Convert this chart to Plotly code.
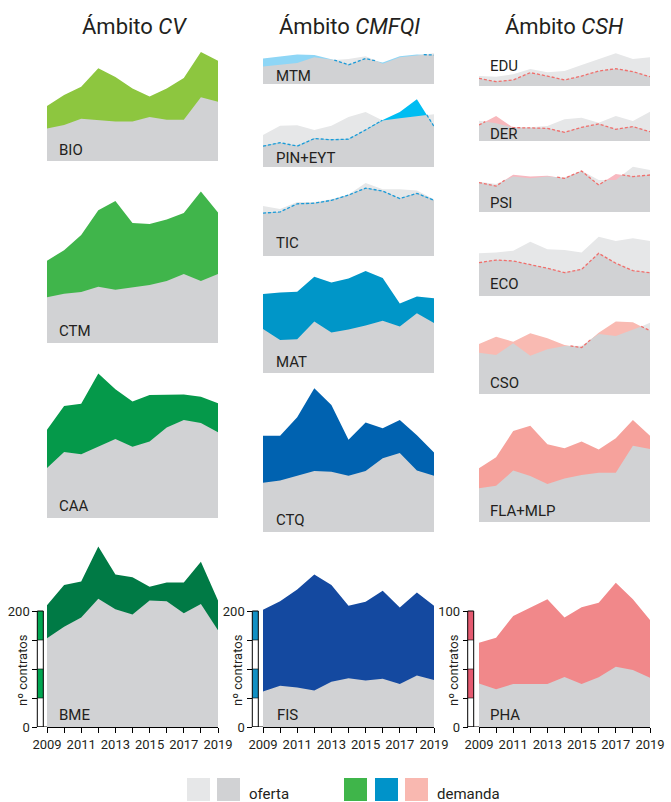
import plotly.graph_objects as go

W, H = 671, 802
FONT = "Roboto, Liberation Sans, sans-serif"
TXT = "#231f20"
LIGHT = "#e6e7e8"
DARK = "#d1d2d4"

years = list(range(2009, 2020))

# ---- data (nº contratos): oferta / demanda ----
BIO_of = [56, 62, 73, 71, 68, 68, 76, 71, 71, 110, 102]
BIO_de = [95, 114, 128, 160, 145, 125, 111, 125, 143, 188, 173]
CTM_of = [79, 85, 88, 97, 92, 96, 100, 107, 119, 107, 119]
CTM_de = [142, 160, 186, 229, 245, 207, 205, 213, 224, 261, 225]
CAA_of = [86, 114, 110, 123, 136, 123, 132, 156, 169, 164, 148]
CAA_de = [152, 193, 197, 249, 222, 201, 212, 213, 213, 209, 198]
BME_of = [153, 173, 189, 221, 203, 194, 218, 217, 196, 212, 167]
BME_de = [210, 245, 251, 311, 263, 258, 242, 249, 249, 285, 218]

MTM_of = [30, 33, 36, 46, 41, 43, 48, 35, 46, 49, 53]
MTM_de = [44, 48, 51, 50, 43, 33, 44, 37, 48, 51, 50]
PIN_of = [55, 71, 72, 64, 71, 86, 95, 80, 84, 88, 91]
PIN_de = [36, 42, 36, 49, 47, 48, 64, 81, 95, 117, 70]
TIC_of = [86, 81, 93, 93, 98, 106, 126, 115, 115, 113, 98]
TIC_de = [74, 76, 90, 91, 96, 105, 117, 112, 99, 108, 96]
MAT_of = [76, 57, 58, 89, 70, 75, 82, 90, 80, 103, 86]
MAT_de = [136, 139, 140, 166, 156, 163, 176, 164, 120, 132, 129]
CTQ_of = [85, 89, 97, 105, 104, 97, 105, 127, 136, 106, 97]
CTQ_de = [166, 166, 198, 248, 219, 159, 189, 179, 193, 167, 137]
FIS_of = [61, 71, 68, 63, 78, 84, 80, 83, 74, 89, 81]
FIS_de = [202, 217, 237, 263, 245, 209, 216, 235, 206, 232, 209]

EDU_of = [8.6, 8.0, 10.1, 14.7, 11.8, 12.9, 18.1, 23.0, 28.2, 23.3, 24.7]
EDU_de = [6.6, 3.7, 5.2, 11.5, 8.6, 5.2, 8.6, 12.9, 14.9, 12.4, 8.0]
DER_of = [17.5, 15.2, 11.8, 11.8, 12.9, 18.7, 20.1, 15.8, 21.6, 17.2, 25.3]
DER_de = [13.8, 21.6, 11.5, 11.3, 10.9, 7.5, 11.8, 14.7, 10.1, 12.4, 8.0]
PSI_of = [26.1, 24.1, 30.5, 29.0, 30.5, 29.6, 35.6, 27.6, 27.6, 39.1, 36.2]
PSI_de = [25.3, 22.4, 32.2, 30.5, 31.3, 29.0, 35.3, 23.3, 32.8, 30.5, 31.9]
ECO_of = [36.8, 37.4, 39.1, 46.8, 40.2, 39.7, 37.6, 51.1, 47.4, 49.7, 47.4]
ECO_de = [28.7, 31.0, 30.2, 27.3, 23.9, 20.1, 23.0, 36.8, 28.2, 21.8, 20.1]
CSO_of = [35.6, 33.6, 43.7, 33.0, 38.5, 41.4, 41.5, 51.7, 50.0, 55.2, 61.5]
CSO_de = [43.1, 49.4, 45.1, 52.3, 48.0, 42.2, 40.0, 52.9, 62.4, 61.8, 54.6]
FLA_of = [29.0, 31.3, 44.3, 39.7, 32.8, 37.6, 40.5, 42.5, 42.5, 65.8, 62.9]
FLA_de = [46.3, 55.8, 78.4, 83.0, 67.0, 63.5, 69.3, 62.6, 72.1, 87.9, 74.4]
PHA_of = [37.6, 32.5, 37.1, 37.1, 37.1, 43.1, 37.1, 42.8, 52.0, 49.1, 42.5]
PHA_de = [72.7, 77.0, 95.7, 103.2, 110.1, 94.3, 103.2, 107.2, 124.4, 110.1, 92.2]

col_titles = ["Ámbito <i>CV</i>", "Ámbito <i>CMFQI</i>", "Ámbito <i>CSH</i>"]
xtick_labels = ["2009", "", "2011", "", "2013", "", "2015", "", "2017", "", "2019"]

# ---- layout config (pixels) ----
cols = [
    dict(x0=47, x1=218, scale=0.58, bar=37.3, barcol="#00a651", ymax=200, title_x=134, ylab_x=22),
    dict(x0=263, x1=434, scale=0.58, bar=252.3, barcol="#1190c4", ymax=200, title_x=349, ylab_x=237),
    dict(x0=479, x1=650, scale=1.16, bar=467.7, barcol="#e55a70", ymax=100, title_x=564, ylab_x=453),
]
DASH2 = "#1b9ad7"
DASH3 = "#ef6f6c"
panels = [
    ("BIO", BIO_of, BIO_de, 0, 161, "#8dc63f", None, 149),
    ("CTM", CTM_of, CTM_de, 0, 343, "#40b54b", None, 330),
    ("CAA", CAA_of, CAA_de, 0, 518, "#05994a", None, 504.5),
    ("BME", BME_of, BME_de, 0, 727, "#007a45", None, 714),
    ("MTM", MTM_of, MTM_de, 1, 84, "#8ed6f6", DASH2, 74.5),
    ("PIN+EYT", PIN_of, PIN_de, 1, 167, "#00bdf2", DASH2, 156.5),
    ("TIC", TIC_of, TIC_de, 1, 256, "#2db0e8", DASH2, 242.5),
    ("MAT", MAT_of, MAT_de, 1, 373, "#0096c8", DASH2, 361),
    ("CTQ", CTQ_of, CTQ_de, 1, 532, "#0062b0", DASH2, 519),
    ("FIS", FIS_of, FIS_de, 1, 727, "#1449a0", DASH2, 714),
    ("EDU", EDU_of, EDU_de, 2, 86, "#f8c0c0", DASH3, 64.5),
    ("DER", DER_of, DER_de, 2, 141, "#f8b8bc", DASH3, 133),
    ("PSI", PSI_of, PSI_de, 2, 212, "#f8b8c0", DASH3, 202.5),
    ("ECO", ECO_of, ECO_de, 2, 296, "#f8b8b8", DASH3, 283),
    ("CSO", CSO_of, CSO_de, 2, 394, "#f9bab2", DASH3, 381.5),
    ("FLA+MLP", FLA_of, FLA_de, 2, 522, "#f6a29c", DASH3, 509.5),
    ("PHA", PHA_of, PHA_de, 2, 727, "#f1888a", DASH3, 714),
]
bottom_panels = {"BME", "FIS", "PHA"}


def px(x):
    return x / W


def py(y):
    return 1 - y / H


def refine(x, o, d):
    xs, os_, ds = [], [], []
    n = len(x)
    for i in range(n):
        xs.append(x[i]); os_.append(o[i]); ds.append(d[i])
        if i < n - 1:
            a = d[i] - o[i]
            b = d[i + 1] - o[i + 1]
            if a * b < 0:
                t = a / (a - b)
                xs.append(x[i] + t * (x[i + 1] - x[i]))
                oc = o[i] + t * (o[i + 1] - o[i])
                os_.append(oc); ds.append(oc)
    return xs, os_, ds


fig = go.Figure()
layout = dict(width=W, height=H, margin=dict(l=0, r=0, t=0, b=0, pad=0, autoexpand=False),
              paper_bgcolor="white", plot_bgcolor="rgba(0,0,0,0)", showlegend=False,
              font=dict(family=FONT, color=TXT))
shapes = []
annotations = []

for k, (name, of, de, ci, bottom, color, dcol, laby) in enumerate(panels, start=1):
    c = cols[ci]
    xa = "x" if k == 1 else f"x{k}"
    ya = "y" if k == 1 else f"y{k}"
    xkey = "xaxis" if k == 1 else f"xaxis{k}"
    ykey = "yaxis" if k == 1 else f"yaxis{k}"
    top_val = max(max(of), max(de)) * 1.05
    top_px = bottom - top_val * c["scale"]
    xs, os_, ds = refine(years, of, de)
    mn = [min(a, b) for a, b in zip(os_, ds)]
    common = dict(xaxis=xa, yaxis=ya, mode="lines", line=dict(width=0), hoverinfo="skip", fill="tozeroy")
    fig.add_trace(go.Scatter(x=xs, y=os_, fillcolor=LIGHT, **common))
    fig.add_trace(go.Scatter(x=xs, y=ds, fillcolor=color, **common))
    fig.add_trace(go.Scatter(x=xs, y=mn, fillcolor=DARK, **common))
    if dcol is not None:
        dl = [dv if dv <= ov + 1e-9 else None for dv, ov in zip(ds, os_)]
        if any(v is not None for v in dl):
            fig.add_trace(go.Scatter(x=xs, y=dl, xaxis=xa, yaxis=ya, mode="lines",
                                     line=dict(color=dcol, width=1.3, dash="3px,2px"),
                                     hoverinfo="skip", connectgaps=False))
    is_bottom = name in bottom_panels
    layout[xkey] = dict(domain=[px(c["x0"]), px(c["x1"])], range=[2009, 2019], anchor=ya,
                        showgrid=False, zeroline=False, visible=is_bottom, fixedrange=True,
                        automargin=False)
    layout[ykey] = dict(domain=[py(bottom), py(top_px)], range=[0, top_val], anchor=xa,
                        showgrid=False, zeroline=False, visible=False, fixedrange=True,
                        automargin=False)
    if is_bottom:
        layout[xkey].update(showline=True, linecolor="black", linewidth=1, ticks="outside",
                            ticklen=5, tickcolor="black", tickvals=years, ticktext=xtick_labels,
                            tickangle=0, tickfont=dict(size=13, family=FONT, color=TXT))
        step = c["ymax"] / 4
        tv = [step * i for i in range(5)]
        layout[ykey].update(visible=True, anchor="free", position=px(c["bar"]), showline=False,
                            ticks="outside", ticklen=5, tickcolor="black", tickvals=tv,
                            ticktext=["0", "", "", "", str(c["ymax"])],
                            tickfont=dict(size=13, family=FONT, color=TXT))
        bx0, bx1 = px(c["bar"]), px(c["bar"] + 6)
        for lo, hi in [(step * 3, step * 4), (step, step * 2)]:
            shapes.append(dict(type="rect", xref="paper", yref=ya, x0=bx0, x1=bx1, y0=lo, y1=hi,
                               fillcolor=c["barcol"], line=dict(width=0), layer="above"))
        shapes.append(dict(type="rect", xref="paper", yref=ya, x0=bx0, x1=bx1, y0=0, y1=c["ymax"],
                           fillcolor="rgba(0,0,0,0)", line=dict(color="black", width=1), layer="above"))
        for lv in tv[1:4]:
            shapes.append(dict(type="line", xref="paper", yref=ya, x0=bx0, x1=bx1, y0=lv, y1=lv,
                               line=dict(color="black", width=0.6), layer="above"))
        shapes.append(dict(type="line", xref="paper", yref=ya, x0=bx0, x1=px(c["x0"]), y0=0, y1=0,
                           line=dict(color="black", width=1), layer="above"))
        annotations.append(dict(text="nº contratos", xref="paper", yref="paper", x=px(c["ylab_x"]),
                                y=py(670), showarrow=False, textangle=-90, xanchor="center",
                                yanchor="middle", font=dict(size=13, family=FONT, color=TXT)))
    lx = c["x0"] + (10 if ci == 0 else (11 if name != "FIS" else 12) if ci == 1 else 9)
    annotations.append(dict(text=name, xref="paper", yref="paper", x=px(lx), y=py(laby + 1),
                            xanchor="left", yanchor="middle", showarrow=False,
                            font=dict(size=15, family=FONT, color=TXT)))

for ci, c in enumerate(cols):
    annotations.append(dict(text=col_titles[ci], xref="paper", yref="paper", x=px(c["title_x"]),
                            y=py(27), xanchor="center", yanchor="middle", showarrow=False,
                            font=dict(size=22, family=FONT, color=TXT)))

# legend
leg_boxes = [(187, LIGHT), (217, DARK), (344, "#3fb54a"), (375, "#0093c9"), (405, "#f9b8b0")]
for x0, colr in leg_boxes:
    shapes.append(dict(type="rect", xref="paper", yref="paper", x0=px(x0), x1=px(x0 + 23),
                       y0=py(801), y1=py(778), fillcolor=colr, line=dict(width=0)))
for txt, x0 in [("oferta", 247), ("demanda", 435)]:
    annotations.append(dict(text=txt, xref="paper", yref="paper", x=px(x0), y=py(794),
                            xanchor="left", yanchor="middle", showarrow=False,
                            font=dict(size=15, family=FONT, color=TXT)))

layout["shapes"] = shapes
layout["annotations"] = annotations
fig.update_layout(**layout)
fig.write_html("out.html")
